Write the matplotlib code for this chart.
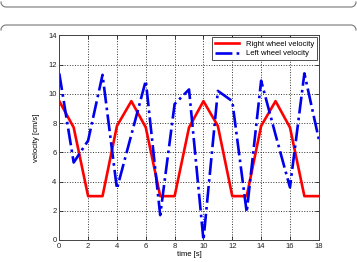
import matplotlib.pyplot as plt
import numpy as np
from matplotlib.lines import Line2D

plt.rcParams['font.family'] = ['Liberation Sans', 'DejaVu Sans']

t = np.arange(0, 19)
right_v = [9.5, 7.7, 3.0, 3.0, 7.8, 9.5, 7.7, 3.0, 3.0, 7.7, 9.5, 7.8, 3.0, 3.0, 7.8, 9.5, 7.7, 3.0, 3.0]
left_v = [11.4, 5.3, 6.8, 11.3, 3.5, 7.2, 10.9, 1.7, 9.3, 10.3, 0.0, 10.2, 9.5, 1.9, 10.9, 7.2, 3.6, 11.4, 6.9]

xticks = np.arange(0, 19, 2)
yticks = np.arange(0, 15, 2)

fig = plt.figure(figsize=(3.57, 2.62), dpi=100)

# page frame decorations: bottom edge of the box above, top edge of the box below
W, H = 357, 262
r = 5
ang = np.linspace(0, np.pi / 2, 10)


def frame_edge(y, up):
    sgn = -1 if up else 1
    lx = 1 + r - r * np.cos(ang)
    ly = y + sgn * (r - r * np.sin(ang))
    rx = 356 - r + r * np.cos(ang[::-1])
    ry = y + sgn * (r - r * np.sin(ang[::-1]))
    xs = np.concatenate([lx, rx])
    ys = np.concatenate([ly, ry])
    fig.add_artist(Line2D(xs / W, 1 - ys / H, transform=fig.transFigure,
                          color='#777777', lw=0.8))


frame_edge(7, up=True)
frame_edge(25, up=False)

ax = fig.add_axes([0.166, 0.084, 0.727, 0.781])
ax.plot(t, right_v, color='#ff0000', lw=1.9, label='Right wheel velocity')
ax.plot(t, left_v, color='#0000ee', lw=1.9, ls='-.', label='Left wheel velocity')

ax.set_xlim(0, 18)
ax.set_ylim(0, 14)
ax.set_xticks(xticks)
ax.set_yticks(yticks)
ax.grid(True, ls=':', color='#333333', lw=0.7)
ax.tick_params(direction='in', top=True, right=True, labelsize=5.5, length=3,
               width=0.6, pad=2, colors='#222222')
for s in ax.spines.values():
    s.set_color('#444444')
    s.set_linewidth(0.7)

ax.set_xlabel('time [s]', fontsize=5.5, labelpad=1)
ax.set_ylabel('velocity [cm/s]', fontsize=5.5, labelpad=6)

leg = ax.legend(loc='upper right', fontsize=5.5, fancybox=False, framealpha=1,
                edgecolor='#333333', borderpad=0.4, handlelength=3.2,
                labelspacing=0.3, borderaxespad=0.25)
leg.get_frame().set_linewidth(0.6)

fig.savefig('out.png', dpi=100)
